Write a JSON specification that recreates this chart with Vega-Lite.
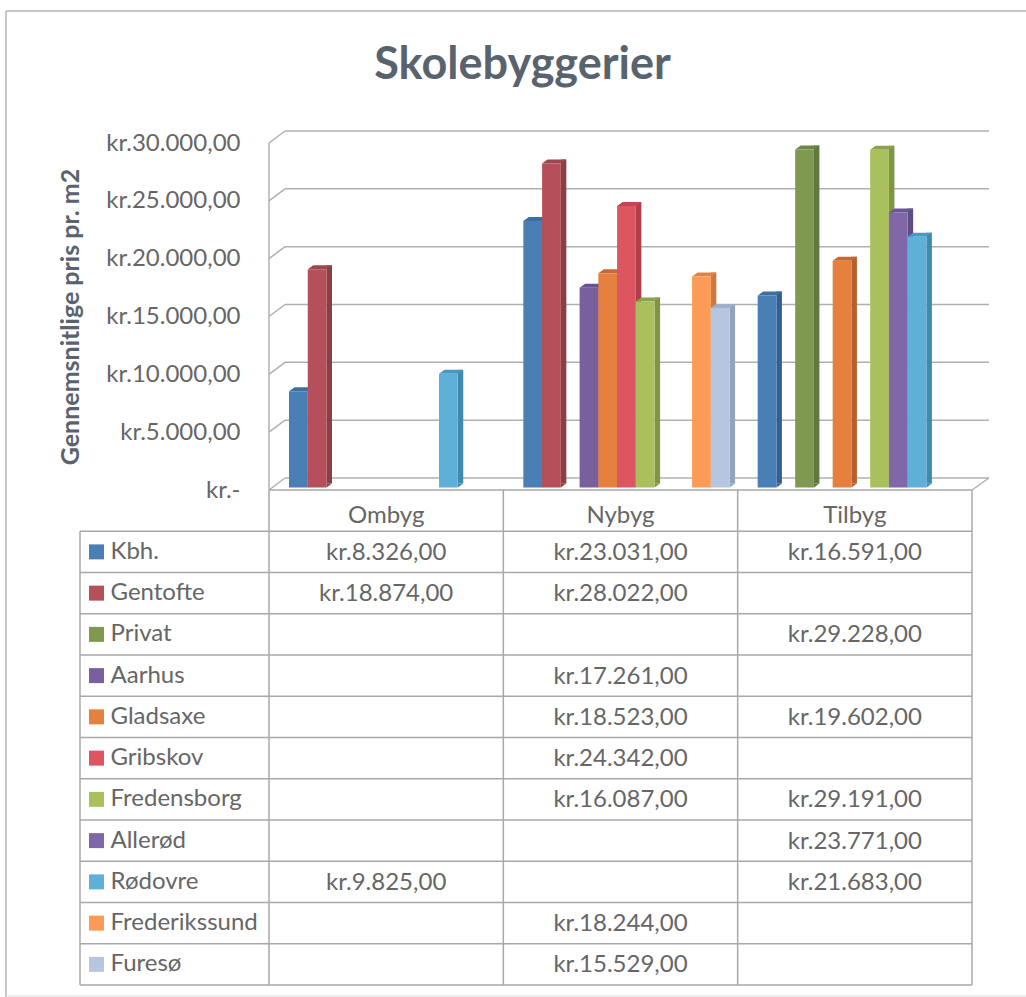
{"$schema":"https://vega.github.io/schema/vega-lite/v6.json","background":"#ffffff","padding":{"left":5,"top":10,"right":0,"bottom":0},"spacing":0,"bounds":"flush","config":{"view":{"stroke":null},"font":"Lato","text":{"font":"Lato"}},
"datasets":{"rows":[
{"type":"Ombyg","city":"Kbh.","value":8326,"label":"kr.8.326,00"},
{"type":"Ombyg","city":"Gentofte","value":18874,"label":"kr.18.874,00"},
{"type":"Ombyg","city":"Rødovre","value":9825,"label":"kr.9.825,00"},
{"type":"Nybyg","city":"Kbh.","value":23031,"label":"kr.23.031,00"},
{"type":"Nybyg","city":"Gentofte","value":28022,"label":"kr.28.022,00"},
{"type":"Nybyg","city":"Aarhus","value":17261,"label":"kr.17.261,00"},
{"type":"Nybyg","city":"Gladsaxe","value":18523,"label":"kr.18.523,00"},
{"type":"Nybyg","city":"Gribskov","value":24342,"label":"kr.24.342,00"},
{"type":"Nybyg","city":"Fredensborg","value":16087,"label":"kr.16.087,00"},
{"type":"Nybyg","city":"Frederikssund","value":18244,"label":"kr.18.244,00"},
{"type":"Nybyg","city":"Furesø","value":15529,"label":"kr.15.529,00"},
{"type":"Tilbyg","city":"Kbh.","value":16591,"label":"kr.16.591,00"},
{"type":"Tilbyg","city":"Privat","value":29228,"label":"kr.29.228,00"},
{"type":"Tilbyg","city":"Gladsaxe","value":19602,"label":"kr.19.602,00"},
{"type":"Tilbyg","city":"Fredensborg","value":29191,"label":"kr.29.191,00"},
{"type":"Tilbyg","city":"Allerød","value":23771,"label":"kr.23.771,00"},
{"type":"Tilbyg","city":"Rødovre","value":21683,"label":"kr.21.683,00"}],
"ticks":[{"v":0},{"v":5000},{"v":10000},{"v":15000},{"v":20000},{"v":25000},{"v":30000}],
"types":[{"type":"Ombyg","row":""},{"type":"Nybyg","row":""},{"type":"Tilbyg","row":""}],
"cities":[{"city":""},{"city":"Kbh."},{"city":"Gentofte"},{"city":"Privat"},{"city":"Aarhus"},{"city":"Gladsaxe"},{"city":"Gribskov"},{"city":"Fredensborg"},{"city":"Allerød"},{"city":"Rødovre"},{"city":"Frederikssund"},{"city":"Furesø"}],
"legend":[{"city":"Kbh."},{"city":"Gentofte"},{"city":"Privat"},{"city":"Aarhus"},{"city":"Gladsaxe"},{"city":"Gribskov"},{"city":"Fredensborg"},{"city":"Allerød"},{"city":"Rødovre"},{"city":"Frederikssund"},{"city":"Furesø"}]},
"vconcat":[
{"width":703,"height":347,
"title":{"text":"Skolebyggerier","font":"Lato","fontSize":45,"fontWeight":"bold","color":"#59636e","anchor":"middle","dx":-98,"offset":-78},
"resolve":{"scale":{"color":"independent","xOffset":"independent"}},
"layer":[
{"data":{"name":"ticks"},"mark":{"type":"rule","color":"#b0b0b0","strokeWidth":1.5,"xOffset":16,"x2Offset":17,"yOffset":-12},
"encoding":{"y":{"field":"v","type":"quantitative","scale":{"domain":[0,30000],"nice":false},
"axis":{"title":"Gennemsnitlige pris pr. m2","titleFont":"Lato","titleFontSize":25,"titleFontWeight":"bold","titleColor":"#59636e","titlePadding":22,"values":[0,5000,10000,15000,20000,25000,30000],"labelExpr":"datum.value==0 ? 'kr.-\u00a0\u00a0' : 'kr.'+format(datum.value/1000,'.0f')+'.000,00'","labelFont":"Lato","labelFontSize":24,"labelColor":"#666666","labelPadding":29,"ticks":false,"domain":false,"grid":false}},
"x":{"datum":"Ombyg","type":"nominal","bandPosition":0,"scale":{"domain":["Ombyg","Nybyg","Tilbyg"],"paddingInner":0,"paddingOuter":0},"axis":null},
"x2":{"datum":"Tilbyg","bandPosition":1}}},
{"data":{"name":"ticks"},"mark":{"type":"rule","color":"#b0b0b0","strokeWidth":1.5,"x2Offset":16,"y2Offset":-12},
"encoding":{"y":{"field":"v","type":"quantitative"},"y2":{"field":"v"},"x":{"datum":"Ombyg","type":"nominal","bandPosition":0},"x2":{"datum":"Ombyg","bandPosition":0}}},
{"data":{"values":[{"a":0}]},"mark":{"type":"rule","color":"#b0b0b0","strokeWidth":1.5},
"encoding":{"y":{"datum":30000,"type":"quantitative"},"y2":{"datum":0},"x":{"datum":"Ombyg","type":"nominal","bandPosition":0}}},
{"data":{"values":[{"a":0}]},"mark":{"type":"rule","color":"#b0b0b0","strokeWidth":1.5,"x2Offset":17,"y2Offset":-12},
"encoding":{"y":{"datum":0,"type":"quantitative"},"y2":{"datum":0},"x":{"datum":"Tilbyg","type":"nominal","bandPosition":1},"x2":{"datum":"Tilbyg","bandPosition":1}}},
{"data":{"values":[{"a":0}]},"mark":{"type":"rule","color":"#b4b4b4","strokeWidth":1.5,"xOffset":-263,"x2Offset":54,"yOffset":-132},
"encoding":{"y":{"datum":30000,"type":"quantitative"},"x":{"datum":"Ombyg","type":"nominal","bandPosition":0},"x2":{"datum":"Tilbyg","bandPosition":1}}},
{"data":{"values":[{"a":0}]},"mark":{"type":"rule","color":"#b4b4b4","strokeWidth":1.5,"xOffset":-263,"yOffset":-132},
"encoding":{"y":{"datum":30000,"type":"quantitative"},"y2":{"datum":0},"x":{"datum":"Ombyg","type":"nominal","bandPosition":0}}},
{"data":{"name":"rows"},"mark":{"type":"bar","width":5.5,"yOffset":-6.5,"y2Offset":-6.5},
"encoding":{"x":{"field":"type","type":"nominal"},"xOffset":{"field":"city","type":"nominal","sort":null,"scale":{"domain":["Kbh.","Gentofte","Privat","Aarhus","Gladsaxe","Gribskov","Fredensborg","Allerød","Rødovre","Frederikssund","Furesø"],"paddingInner":0,"paddingOuter":0,"range":[32.125,238.375]}},
"y":{"field":"value","type":"quantitative"},"y2":{"datum":0},
"color":{"field":"city","type":"nominal","legend":null,"scale":{"domain":["Kbh.","Gentofte","Privat","Aarhus","Gladsaxe","Gribskov","Fredensborg","Allerød","Rødovre","Frederikssund","Furesø"],"range":["#34608f","#8c3e45","#5f7a3e","#5c4680","#b5602e","#b03f4a","#7f9444","#5f4c86","#3f8aaf","#cc7a40","#93a3bd"]}}}},
{"data":{"name":"rows"},"mark":{"type":"point","filled":true,"opacity":1,"size":400,"strokeWidth":0,"shape":"M0.9375,0 L1.4875,-0.4 L0.9375,-0.4 Z","yOffset":-2.5},
"encoding":{"x":{"field":"type","type":"nominal"},"xOffset":{"field":"city","type":"nominal","sort":null,"scale":{"domain":["Kbh.","Gentofte","Privat","Aarhus","Gladsaxe","Gribskov","Fredensborg","Allerød","Rødovre","Frederikssund","Furesø"],"padding":0,"range":[29.375,216.875]}},
"y":{"datum":0,"type":"quantitative"},
"color":{"field":"city","type":"nominal","legend":null,"scale":{"domain":["Kbh.","Gentofte","Privat","Aarhus","Gladsaxe","Gribskov","Fredensborg","Allerød","Rødovre","Frederikssund","Furesø"],"range":["#34608f","#8c3e45","#5f7a3e","#5c4680","#b5602e","#b03f4a","#7f9444","#5f4c86","#3f8aaf","#cc7a40","#93a3bd"]}}}},
{"data":{"name":"rows"},"mark":{"type":"point","filled":true,"opacity":1,"size":400,"strokeWidth":0,"shape":"M-0.9375,0 L0.9375,0 L1.4875,-0.4 L-0.3875,-0.4 Z","yOffset":-2.5},
"encoding":{"x":{"field":"type","type":"nominal"},"xOffset":{"field":"city","type":"nominal","sort":null,"scale":{"domain":["Kbh.","Gentofte","Privat","Aarhus","Gladsaxe","Gribskov","Fredensborg","Allerød","Rødovre","Frederikssund","Furesø"],"padding":0,"range":[29.375,216.875]}},
"y":{"field":"value","type":"quantitative"},
"color":{"field":"city","type":"nominal","legend":null,"scale":{"domain":["Kbh.","Gentofte","Privat","Aarhus","Gladsaxe","Gribskov","Fredensborg","Allerød","Rødovre","Frederikssund","Furesø"],"range":["#3f6f9f","#9c4650","#6c8646","#69508e","#c46a34","#c04854","#8ba34c","#6b5796","#4a98c0","#dd8446","#a0b0cc"]}}}},
{"data":{"name":"rows"},"mark":{"type":"bar","yOffset":-2.5,"y2Offset":-2.5},
"encoding":{"x":{"field":"type","type":"nominal"},"xOffset":{"field":"city","type":"nominal","sort":null,"scale":{"domain":["Kbh.","Gentofte","Privat","Aarhus","Gladsaxe","Gribskov","Fredensborg","Allerød","Rødovre","Frederikssund","Furesø"],"paddingInner":0,"paddingOuter":0,"range":[20,226.25]}},
"y":{"field":"value","type":"quantitative"},"y2":{"datum":0},
"color":{"field":"city","type":"nominal","legend":null,"scale":{"domain":["Kbh.","Gentofte","Privat","Aarhus","Gladsaxe","Gribskov","Fredensborg","Allerød","Rødovre","Frederikssund","Furesø"],"range":["#4a7fb5","#b5505a","#7f9a50","#7a5f9e","#e5803f","#dc5560","#a9c05c","#8068a8","#5fb0d9","#fb9b55","#b7c6e0"]}}}}
]},
{"width":703,"height":495,
"layer":[
{"data":{"name":"cities"},"mark":{"type":"rule","color":"#a8a8a8","strokeWidth":1.5,"xOffset":-189},
"encoding":{"y":{"field":"city","type":"nominal","bandPosition":1,"sort":null,"scale":{"domain":["","Kbh.","Gentofte","Privat","Aarhus","Gladsaxe","Gribskov","Fredensborg","Allerød","Rødovre","Frederikssund","Furesø"],"paddingInner":0,"paddingOuter":0},
"axis":{"title":null,"ticks":false,"domain":false,"grid":false,"labelAlign":"left","labelPadding":159,"labelFont":"Lato","labelFontSize":24,"labelColor":"#666666"}},
"x":{"datum":"Ombyg","type":"nominal","bandPosition":0,"scale":{"domain":["Ombyg","Nybyg","Tilbyg"],"paddingInner":0,"paddingOuter":0},"axis":null},"x2":{"datum":"Tilbyg","bandPosition":1}}},
{"data":{"values":[{"a":0}]},"mark":{"type":"rule","color":"#a8a8a8","strokeWidth":1.5},
"encoding":{"y":{"datum":"","type":"nominal","bandPosition":0},"x":{"datum":"Ombyg","type":"nominal","bandPosition":0},"x2":{"datum":"Tilbyg","bandPosition":1}}},
{"data":{"name":"types"},"mark":{"type":"rule","color":"#a8a8a8","strokeWidth":1.5},
"encoding":{"x":{"field":"type","type":"nominal","bandPosition":0},"y":{"datum":"","type":"nominal","bandPosition":0},"y2":{"datum":"Furesø","bandPosition":1}}},
{"data":{"values":[{"a":0}]},"mark":{"type":"rule","color":"#a8a8a8","strokeWidth":1.5},
"encoding":{"x":{"datum":"Tilbyg","type":"nominal","bandPosition":1},"y":{"datum":"","type":"nominal","bandPosition":0},"y2":{"datum":"Furesø","bandPosition":1}}},
{"data":{"values":[{"a":0}]},"mark":{"type":"rule","color":"#a8a8a8","strokeWidth":1.5,"xOffset":-189},
"encoding":{"x":{"datum":"Ombyg","type":"nominal","bandPosition":0},"y":{"datum":"","type":"nominal","bandPosition":1},"y2":{"datum":"Furesø","bandPosition":1}}},
{"data":{"values":[{"a":0}]},"mark":{"type":"rule","color":"#b4b4b4","strokeWidth":1.5,"xOffset":-263,"y2Offset":12},
"encoding":{"x":{"datum":"Ombyg","type":"nominal","bandPosition":0},"y":{"datum":"","type":"nominal","bandPosition":0},"y2":{"datum":"Furesø","bandPosition":1}}},
{"data":{"values":[{"a":0}]},"mark":{"type":"rule","color":"#dcdcdc","strokeWidth":1,"xOffset":-263,"x2Offset":54,"yOffset":11},
"encoding":{"x":{"datum":"Ombyg","type":"nominal","bandPosition":0},"x2":{"datum":"Tilbyg","bandPosition":1},"y":{"datum":"Furesø","type":"nominal","bandPosition":1}}},
{"data":{"name":"legend"},"mark":{"type":"square","size":225,"opacity":1,"xOffset":-172.5},
"encoding":{"x":{"datum":"Ombyg","type":"nominal","bandPosition":0},"y":{"field":"city","type":"nominal"},
"color":{"field":"city","type":"nominal","legend":null,"scale":{"domain":["Kbh.","Gentofte","Privat","Aarhus","Gladsaxe","Gribskov","Fredensborg","Allerød","Rødovre","Frederikssund","Furesø"],"range":["#4a7fb5","#b5505a","#7f9a50","#7a5f9e","#e5803f","#dc5560","#a9c05c","#8068a8","#5fb0d9","#fb9b55","#b7c6e0"]}}}},
{"data":{"name":"types"},"mark":{"type":"text","font":"Lato","fontSize":24,"color":"#666666","yOffset":5},
"encoding":{"x":{"field":"type","type":"nominal"},"y":{"field":"row","type":"nominal"},"text":{"field":"type"}}},
{"data":{"name":"rows"},"mark":{"type":"text","font":"Lato","fontSize":24,"color":"#666666","yOffset":1},
"encoding":{"x":{"field":"type","type":"nominal"},"y":{"field":"city","type":"nominal"},"text":{"field":"label"}}}
]}
]}
